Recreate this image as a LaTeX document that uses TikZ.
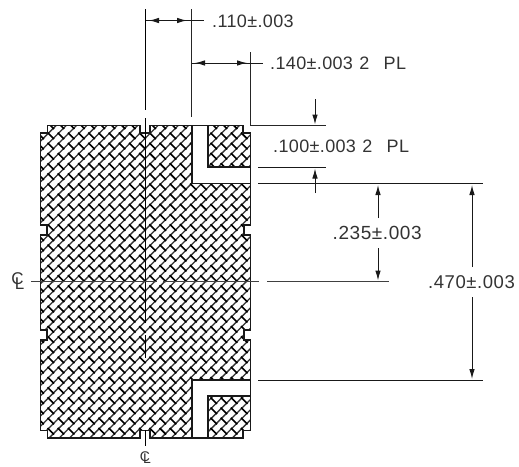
\documentclass[tikz,border=0pt]{standalone}
\usepackage{fontspec}
\setmainfont{Liberation Sans}
\usetikzlibrary{arrows.meta}
\tikzset{
  x=1pt,y=-1pt,
  dimline/.style={line width=1pt,draw=black!90},
  extline/.style={line width=1.1pt,draw=black!85},
  headline/.style={line width=1pt,draw=black!90,-{Latex[length=10pt,width=5.5pt]}},
  outline/.style={line width=1.3pt,draw=black!90},
  dimtext/.style={inner sep=0pt,anchor=west,text=black!80,font=\fontsize{18}{20}\selectfont\addfontfeatures{LetterSpace=2}},
  clsym/.style={inner sep=0pt,text=black!80,font=\fontsize{17}{20}\selectfont},
  clsymsmall/.style={inner sep=0pt,text=black!80,font=\fontsize{14}{16}\selectfont},
}
\newcommand{\mainshape}{(47.5,125.5) -- (140,125.5) -- (140,133) -- (150,133) -- (150,125.5) -- (192,125.5) -- (192,183.5) -- (250.5,183.5) -- (250.5,225) -- (244,225) -- (244,235) -- (250.5,235) -- (250.5,330) -- (244,330) -- (244,340) -- (250.5,340) -- (250.5,380) -- (192,380) -- (192,438) -- (150,438) -- (150,430.5) -- (140,430.5) -- (140,438) -- (47.5,438) -- (47.5,430.5) -- (40.5,430.5) -- (40.5,340) -- (47,340) -- (47,330) -- (40.5,330) -- (40.5,235) -- (47,235) -- (47,225) -- (40.5,225) -- (40.5,133) -- (47.5,133) -- cycle}
\newcommand{\islandA}{(208,125.5) -- (243,125.5) -- (243,133) -- (250.5,133) -- (250.5,167) -- (208,167) -- cycle}
\newcommand{\islandB}{(208,396) -- (250.5,396) -- (250.5,430.5) -- (243,430.5) -- (243,438) -- (208,438) -- cycle}
\newcommand{\hatchfill}{%
  \begin{scope}[shift={(145,281)},rotate=45]
    \foreach \k in {-34,...,34}{
      \draw[line width=1.3pt,black!80] (-240pt,\k*7.2pt) -- (240pt,\k*7.2pt);
    }
    \foreach \k in {-34,...,34}{
      \pgfmathsetmacro{\ph}{1+mod(\k+100,2)*7.2}
      \draw[line width=1.6pt,black,dash pattern=on 9.2pt off 5.2pt,dash phase=\ph pt] (\k*7.2pt,-244.8pt) -- (\k*7.2pt,244.8pt);
    }
  \end{scope}}
\begin{document}
\begin{tikzpicture}
\useasboundingbox (0,0) rectangle (519,466);
% hatched areas
\begin{scope}\clip \mainshape \islandA \islandB; \hatchfill \end{scope}
\draw[outline] \mainshape;
\draw[outline] \islandA;
\draw[outline] \islandB;
\draw[outline] (192,125.5) -- (208,125.5);
\draw[outline] (192,438) -- (208,438);
\draw[outline] (250.5,167) -- (250.5,183.5);
\draw[outline] (250.5,380) -- (250.5,396);
% coordinates
\coordinate (cvtop) at (145.5,9);
\coordinate (cvtope) at (145.5,110);
\coordinate (cvb) at (145.5,118);
\coordinate (cvc) at (145.5,323);
\coordinate (cvd) at (145.5,335);
\coordinate (cve) at (145.5,358);
\coordinate (cvf) at (145.5,430);
\coordinate (cvg) at (145.5,446);
\coordinate (ea) at (191.5,9);
\coordinate (eb) at (191.5,117);
\coordinate (da) at (145.5,20.5);
\coordinate (db) at (204,20.5);
\coordinate (dah) at (160,20.5);
\coordinate (dat) at (149,20.5);
\coordinate (dbh) at (176,20.5);
\coordinate (dbt) at (187,20.5);
\coordinate (fa) at (192,63);
\coordinate (fb) at (263,63);
\coordinate (fah) at (206,63);
\coordinate (fat) at (195,63);
\coordinate (fbh) at (236,63);
\coordinate (fbt) at (247,63);
\coordinate (gx) at (250.5,52);
\coordinate (gy) at (250.5,125.5);
\coordinate (gz) at (326,125.5);
\coordinate (ha) at (315,99);
\coordinate (hat) at (315,124.5);
\coordinate (ia) at (258,167);
\coordinate (ib) at (326,167);
\coordinate (ja) at (258,183.5);
\coordinate (jb) at (483,183.5);
\coordinate (ka) at (315,193);
\coordinate (kat) at (315,168.5);
\coordinate (la) at (378,218);
\coordinate (lat) at (378,185);
\coordinate (ma) at (378,248);
\coordinate (mat) at (378,280.5);
\coordinate (na) at (472,267);
\coordinate (nat) at (472,185);
\coordinate (oa) at (472,297);
\coordinate (oat) at (472,379);
\coordinate (pa) at (258,380);
\coordinate (pb) at (483,380);
\coordinate (qa) at (31,281.5);
\coordinate (qb) at (157,281.5);
\coordinate (qc) at (163,281.5);
\coordinate (qd) at (259,281.5);
\coordinate (qe) at (267,281.5);
\coordinate (qf) at (389,281.5);
% centre lines
\draw[extline,black] (cvtop) -- (cvtope);
\draw[extline,black] (cvb) -- (cvc);
\draw[extline,black] (cvd) -- (cve);
\draw[extline,black] (cvf) -- (cvg);
\draw[dimline,black!75] (qa) -- (qb);
\draw[dimline,black!75] (qc) -- (qd);
\draw[dimline,black!75] (qe) -- (qf);
% extension lines
\draw[extline] (ea) -- (eb);
\draw[extline] (gx) -- (gy) -- (gz);
\draw[dimline] (ia) -- (ib);
\draw[dimline] (ja) -- (jb);
\draw[dimline] (pa) -- (pb);
% dimension lines
\draw[dimline] (da) -- (db);
\draw[headline] (dah) -- (dat);
\draw[headline] (dbh) -- (dbt);
\draw[dimline] (fa) -- (fb);
\draw[headline] (fah) -- (fat);
\draw[headline] (fbh) -- (fbt);
\draw[headline] (ha) -- (hat);
\draw[headline] (ka) -- (kat);
\draw[headline] (la) -- (lat);
\draw[headline] (ma) -- (mat);
\draw[headline] (na) -- (nat);
\draw[headline] (oa) -- (oat);
% labels
\node[dimtext] (t110) at (212,21) {.110±.003};
\node[dimtext] (t140) at (270,63.5) {.140±.003\hspace{0.35em}2\hspace{0.8em}PL};
\node[dimtext] (t100) at (273,146.5) {.100±.003\hspace{0.35em}2\hspace{0.8em}PL};
\node[dimtext,font=\fontsize{19}{20}\selectfont\addfontfeatures{LetterSpace=3}] (t235) at (332.5,233) {.235±.003};
\node[dimtext,font=\fontsize{18.5}{20}\selectfont\addfontfeatures{LetterSpace=3}] (t470) at (428,282) {.470±.003};
% centre line symbols
\node[clsym] (cl1c) at (17.5,279) {C};
\node[clsym] (cl1l) at (19.5,284) {L};
\node[clsymsmall] (cl2c) at (145,457) {C};
\node[clsymsmall] (cl2l) at (147,459) {L};
\end{tikzpicture}
\end{document}
